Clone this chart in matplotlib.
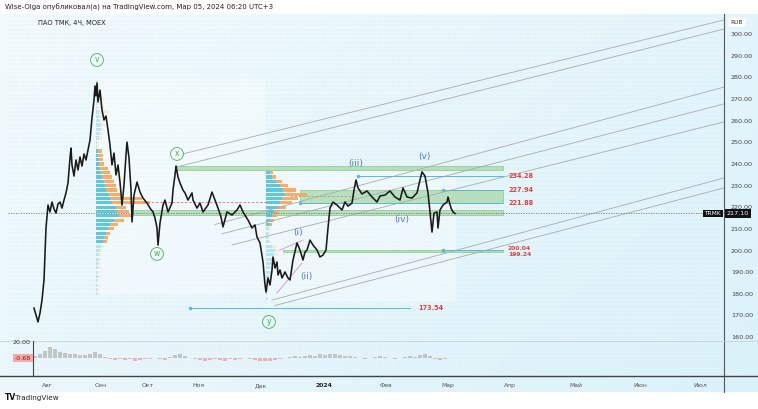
import numpy as np
import matplotlib.pyplot as plt
from matplotlib.lines import Line2D
import matplotlib.transforms as mtransforms

W, H = 758, 409

# price path (bar index, close)
bar_x = [34, 36, 38, 40, 42, 44, 45, 46, 48, 50, 52, 54, 56, 58, 60, 62, 64, 66, 68, 70,
         71, 72, 74, 76, 78, 80, 82, 84, 86, 88, 90, 92, 94, 95, 96, 97, 98, 100, 102, 104,
         106, 108, 110, 112, 114, 116, 118, 120, 122, 124, 126, 127, 129, 131, 132, 134, 137, 140, 143, 147,
         150, 153, 155, 157, 158, 160, 163, 165, 168, 172, 173, 175, 176, 178, 180, 183, 185, 188, 192, 193,
         197, 200, 203, 208, 212, 215, 218, 221, 223, 227, 232, 237, 240, 243, 248, 252, 255, 257, 260, 263,
         265, 266, 268, 270, 272, 273, 275, 277, 278, 280, 282, 285, 288, 290, 293, 297, 300, 303, 305, 307,
         310, 313, 317, 320, 323, 326, 328, 330, 333, 337, 342, 345, 348, 352, 354, 356, 358, 362, 367, 372,
         377, 380, 385, 390, 395, 400, 403, 407, 412, 417, 420, 422, 425, 428, 430, 432, 434, 437, 438, 440,
         443, 447, 448, 451, 453, 455]
close = [173.4, 170.2, 167.0, 171.1, 177.1, 186.4, 197.9, 210.4, 221.0, 217.8, 222.4, 219.2, 217.3, 221.5, 222.4, 219.6, 223.3, 226.6, 231.2, 242.7,
         247.3, 239.5, 234.4, 241.8, 237.2, 243.2, 239.0, 244.6, 241.8, 246.4, 251.0, 261.2, 269.5, 276.0, 271.4, 277.4, 268.6, 274.1, 264.9, 260.3,
         262.1, 255.7, 248.7, 239.5, 245.0, 234.9, 239.5, 231.6, 221.0, 230.3, 244.1, 250.1, 242.7, 228.0, 213.2, 225.6, 231.6, 227.0, 224.2, 221.9,
         219.6, 217.8, 215.0, 210.4, 202.5, 212.7, 221.0, 223.3, 217.8, 221.9, 227.9, 234.9, 239.0, 233.9, 231.2, 227.9, 226.6, 223.3, 226.6, 223.3,
         219.6, 221.9, 217.8, 221.0, 227.0, 223.3, 219.6, 215.5, 210.9, 217.8, 216.4, 218.7, 221.0, 217.8, 214.1, 210.4, 211.8, 206.2, 203.5, 194.7,
         184.1, 180.8, 187.3, 184.1, 191.0, 197.0, 191.9, 194.7, 188.7, 191.0, 187.3, 190.1, 187.3, 186.4, 195.6, 203.5, 200.2, 195.6, 199.3, 200.2,
         204.8, 202.5, 200.2, 197.0, 197.9, 200.2, 210.4, 219.6, 222.4, 221.0, 218.7, 222.4, 220.5, 221.9, 227.9, 232.6, 228.9, 226.1, 227.5, 224.7,
         222.4, 225.2, 225.6, 227.5, 224.7, 223.3, 228.9, 224.7, 224.2, 226.6, 232.6, 236.3, 234.4, 226.6, 217.8, 208.5, 217.3, 217.8, 210.4, 218.7,
         221.0, 222.4, 224.7, 219.6, 217.8, 217.1]
last_price = 217.10

# time axis
month_pos = [47, 101, 148, 198, 261, 324, 386, 448, 510, 576, 640, 700]
month_lbl = ["Авг", "Сен", "Окт", "Ноя", "Дек", "2024", "Фев", "Мар", "Апр", "Май", "Июн", "Июл"]
price_ticks = list(range(160, 301, 10))

# volume profile 1 (Sep), rows: price, cyan width, total width
vp1_base = 96
vp1_price = list(range(180, 279, 2))
vp1_up = [1, 1, 1, 1, 2, 1, 2, 2, 3, 3, 4, 5, 7, 8, 10, 12, 14, 18, 23, 21,
          20, 16, 14, 13, 10, 9, 8, 6, 5, 4, 3, 3, 2, 2, 1, 1, 3, 4, 5, 5,
          4, 4, 3, 1, 1, 1, 1, 1, 1, 1]
vp1_tot = [3, 3, 4, 3, 4, 4, 5, 4, 5, 6, 6, 8, 11, 12, 14, 18, 22, 28, 36, 33,
           30, 54, 46, 24, 21, 20, 18, 16, 14, 12, 8, 7, 7, 6, 3, 3, 6, 7, 8, 9,
           8, 10, 12, 8, 6, 8, 5, 4, 4, 3]
vp1_va = (204, 246)

# volume profile 2 (Dec-Feb)
vp2_base = 266
vp2_price = list(range(178, 237, 2))
vp2_up = [1, 1, 2, 2, 3, 3, 4, 4, 5, 6, 8, 9, 6, 3, 2, 2, 3, 3, 4, 6,
          8, 12, 14, 16, 19, 17, 14, 10, 6, 4]
vp2_tot = [2, 2, 3, 4, 5, 6, 7, 8, 9, 10, 12, 14, 10, 5, 4, 4, 5, 6, 8, 11,
           13, 20, 26, 32, 41, 30, 22, 16, 10, 7]
vp2_va = (212, 237)

# zones and levels
zones = [(177, 237.3, 238.8), (300, 221.88, 227.94), (133, 216.4, 218.8), (283, 199.24, 200.04)]
zone_end = 503
levels = [(358, 503, 234.28), (443, 503, 227.94), (300, 503, 221.88), (443, 503, 200.04), (190, 410, 173.54)]
level_labels = [(508, 234.28, "234.28", 4.7), (508, 227.94, "227.94", 4.7), (508, 221.88, "221.88", 4.7),
                (508, 201.0, "200.04", 4.3), (508, 198.3, "199.24", 4.3), (418, 173.54, "173.54", 4.7)]

# channel lines ((x0, p0), (x1, p1))
channels = [((183, 244.6), (724, 306.5)), ((177, 238.6), (724, 302.3)),
            ((215, 212.0), (724, 275.5)), ((222, 207.7), (724, 267.7)),
            ((232, 202.6), (724, 259.4)), ((272, 177.1), (724, 233.5)),
            ((275, 174.6), (724, 228.9))]
pink_lines = [((277, 180.4), (302, 194.2)), ((280, 200.2), (303, 204.8))]

# wave labels
wave_green = [(97, 288.0, "v"), (177, 244.6, "x"), (157, 198.4, "w"), (269, 167.0, "y")]
wave_blue = [(298, 208.1, "(i)"), (306, 187.8, "(ii)"), (356, 240.4, "(iii)"), (402, 214.5, "(iv)"), (424, 243.6, "(v)")]

# oscillator
osc_x = list(range(35, 456, 5))
osc_v = [2, 4, 9, 14, 11, 7, 6, 5, 4, 3, 3, 4, 7, 4, 1, -2, -3, -2, -3, -2,
         -4, -3, -2, -2, -1, -2, -3, 1, 3, 5, 2, -1, -2, -3, -4, -3, -2, -3, -4, -2,
         -3, -2, -1, -2, -3, -4, -5, -4, -3, -2, -1, 1, 2, 1, 2, 3, 2, 4, 3, 5,
         4, 3, 2, 2, 1, -1, -2, -1, 1, 2, 1, -1, -2, -1, 1, 2, 1, 3, 4, 2,
         -2, -3, -2, -1, -1]
osc_last = -0.68


def fx(px):
    return px / W


def fy(py):
    return 1 - py / H


fig = plt.figure(figsize=(W / 100, H / 100), dpi=100)
fig.patch.set_facecolor("white")

# background gradient
bg = fig.add_axes([0, fy(392), 1, (392 - 14) / H])
gx = np.linspace(0, 1, 200)[None, :]
gy = np.linspace(0, 1, 100)[:, None]
t = 0.65 * gx + 0.35 * gy
c0 = np.array([0.950, 0.984, 0.995])
c1 = np.array([0.860, 0.948, 0.980])
img = c0[None, None, :] * (1 - t[..., None]) + c1[None, None, :] * t[..., None]
bg.imshow(img, aspect="auto", extent=[0, 1, 0, 1])
bg.set_axis_off()

ax = fig.add_axes([fx(8), fy(340), (724 - 8) / W, (340 - 14) / H])
ax.set_facecolor("none")
ax.set_xlim(8, 724)
ax.set_ylim(158.66, 309.24)
for s in ax.spines.values():
    s.set_visible(False)
ax.set_xticks([])
ax.yaxis.tick_right()
ax.set_yticks(price_ticks)
ax.set_yticklabels([f"{v:.2f}" for v in price_ticks])
ax.tick_params(axis="y", length=0, pad=5, labelsize=4.6, labelcolor="#444444")

# faint dotted grid
for p in np.arange(160, 309, 2.0):
    ax.axhline(p, color="#c9dde5", lw=0.35, ls=(0, (1, 2.5)), zorder=0)

# volume profile boxes
ax.add_patch(plt.Rectangle((96, 180), 169, 99, fc="white", ec="none", alpha=0.35, zorder=0.5))
ax.add_patch(plt.Rectangle((266, 176), 190, 61, fc="white", ec="none", alpha=0.35, zorder=0.5))


def draw_vp(base, prices, up, tot, va):
    for p, u, tt in zip(prices, up, tot):
        inside = va[0] <= p <= va[1]
        a = 0.9 if inside else 0.35
        ax.barh(p, u, left=base, height=1.5, color="#4cc3dc", alpha=a, lw=0, zorder=2)
        ax.barh(p, tt - u, left=base + u, height=1.5, color="#f5a55b" if inside else "#f3dca8",
                alpha=a, lw=0, zorder=2)


draw_vp(vp1_base, vp1_price, vp1_up, vp1_tot, vp1_va)
draw_vp(vp2_base, vp2_price, vp2_up, vp2_tot, vp2_va)

# green zones
for x0, lo, hi in zones:
    ax.add_patch(plt.Rectangle((x0, lo), zone_end - x0, hi - lo, fc="#a8d8a9", ec="#7cc47f",
                               lw=0.6, alpha=0.75, zorder=1.5))

# levels
for x0, x1, p in levels:
    ax.plot([x0, x1], [p, p], color="#5bb8d6", lw=0.7, zorder=3)
    ax.plot([x0], [p], marker="o", ms=1.5, color="#5bb8d6", zorder=3)
for x0, p, s, fs in level_labels:
    ax.text(x0, p, s, color="#e0403c", fontsize=fs, fontweight="bold", va="center", ha="left", zorder=5)

# dashed POC lines
ax.plot([143, 266], [222.4, 222.4], color="#e57373", lw=0.6, ls=(0, (3, 2)), zorder=3)
ax.plot([290, 355], [225.2, 225.2], color="#b59a8a", lw=0.6, ls=(0, (3, 2)), zorder=3)
# last price dotted line
ax.axhline(last_price, color="#777777", lw=0.6, ls=(0, (1.5, 1.5)), zorder=3)

# channels
for (x0, p0), (x1, p1) in channels:
    ax.plot([x0, x1], [p0, p1], color="#a8acae", lw=0.6, zorder=2.5)
for (x0, p0), (x1, p1) in pink_lines:
    ax.plot([x0, x1], [p0, p1], color="#d7a0d6", lw=0.7, zorder=2.5)

# price
ax.plot(bar_x, close, color="#1a1a1a", lw=1.15, zorder=4)

# wave labels
for x, p, s in wave_green:
    ax.text(x, p, s, color="#4caf50", fontsize=5.5, ha="center", va="center", zorder=6,
            bbox=dict(boxstyle="circle,pad=0.25", fc="none", ec="#4caf50", lw=0.6))
for x, p, s in wave_blue:
    ax.text(x, p, s, color="#4f79c9", fontsize=6.5, ha="center", va="center", zorder=6)

# last price labels
tr = mtransforms.blended_transform_factory(ax.transAxes, ax.transData)
ax.text(1.004, last_price, "217.10", transform=tr, fontsize=4.6, color="white", va="center", ha="left",
        zorder=7, bbox=dict(boxstyle="square,pad=0.25", fc="#111111", ec="none"))
ax.text(0.996, last_price, "TRMK", transform=tr, fontsize=4.2, color="white", va="center", ha="right",
        zorder=7, bbox=dict(boxstyle="square,pad=0.25", fc="#111111", ec="none"))

# oscillator pane
ax2 = fig.add_axes([fx(8), fy(375), (724 - 8) / W, 35 / H])
ax2.set_facecolor("none")
ax2.set_xlim(8, 724)
ax2.set_ylim(-22.6, 22.6)
for s in ax2.spines.values():
    s.set_visible(False)
ax2.set_yticks([])
for p in np.arange(-20, 23, 4.0):
    ax2.axhline(p, color="#c9dde5", lw=0.35, ls=(0, (1, 2.5)), zorder=0)
cols = ["#b9b9b9" if v >= 0 else "#f0a0a0" for v in osc_v]
ax2.bar(osc_x, osc_v, width=4.2, color=cols, lw=0, alpha=0.8)
ax2.set_xticks(month_pos)
ax2.set_xticklabels(month_lbl)
ax2.tick_params(axis="x", length=0, pad=6, labelsize=4.4, labelcolor="#555555")
for lab in ax2.get_xticklabels():
    if lab.get_text() == "2024":
        lab.set_fontweight("bold")
        lab.set_color("#222222")
fig.text(fx(31), fy(342), "20.00", fontsize=4.6, color="#333333", ha="right", va="center")
fig.text(fx(31), fy(358), f"{osc_last:.2f}", fontsize=4.6, color="#8b1a1a", ha="right", va="center",
         bbox=dict(boxstyle="square,pad=0.25", fc="#f5a9a9", ec="none"))

# frame lines
fig.add_artist(Line2D([fx(724), fx(724)], [fy(14), fy(392)], color="#555555", lw=0.8))
fig.add_artist(Line2D([fx(0), fx(758)], [fy(340.5), fy(340.5)], color="#c8d4d8", lw=0.6))
fig.add_artist(Line2D([fx(0), fx(758)], [fy(376), fy(376)], color="#444444", lw=1.0))
fig.add_artist(Line2D([fx(33), fx(33)], [fy(340.5), fy(376)], color="#444444", lw=0.8))

# header / footer
fig.text(fx(5), fy(7), "Wise-Olga опубликовал(а) на TradingView.com, Мар 05, 2024 06:20 UTC+3",
         fontsize=5.0, color="#222222", va="center", ha="left")
fig.text(fx(38), fy(23), "ПАО ТМК, 4Ч, MOEX", fontsize=4.8, color="#222222", va="center", ha="left")
fig.text(fx(737), fy(22), "RUB", fontsize=4.2, color="#333333", va="center", ha="center",
         bbox=dict(boxstyle="round,pad=0.4", fc="white", ec="none"))
fig.text(fx(5), fy(398), "TV", fontsize=5.5, color="#111111", fontweight="bold", va="center", ha="left")
fig.text(fx(15), fy(398), "TradingView", fontsize=5.2, color="#222222", va="center", ha="left")

fig.savefig("out.png", dpi=100)
